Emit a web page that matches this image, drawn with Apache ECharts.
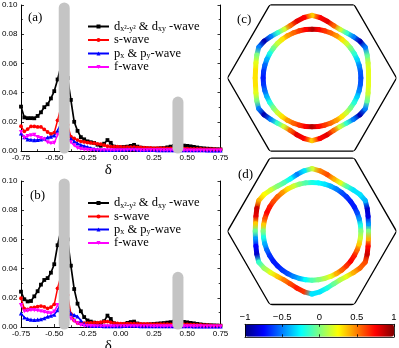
<!DOCTYPE html>
<html><head><meta charset="utf-8">
<script src="https://cdn.jsdelivr.net/npm/echarts@6/dist/echarts.min.js"></script>
<style>html,body{margin:0;padding:0;background:#fff;}#c{width:399px;height:348px;}</style>
</head><body><div id="c"></div>
<script>
// ---------- data: panels (a) and (b) ----------
const delta = [-0.75,-0.725,-0.7,-0.675,-0.65,-0.625,-0.6,-0.575,-0.55,-0.525,-0.5,-0.475,-0.45,-0.425,-0.4,-0.375,-0.35,-0.325,-0.3,-0.275,-0.25,-0.225,-0.2,-0.175,-0.15,-0.125,-0.1,-0.075,-0.05,-0.025,0,0.025,0.05,0.075,0.1,0.125,0.15,0.175,0.2,0.225,0.25,0.275,0.3,0.325,0.35,0.375,0.4,0.425,0.45,0.475,0.5,0.525,0.55,0.575,0.6,0.625,0.65,0.675,0.7,0.725,0.75];

const dWaveA = [0.0304,0.023,0.0225,0.0225,0.0224,0.024,0.0265,0.030,0.032,0.036,0.041,0.049,0.058,0.065,0.05,0.035,0.020,0.0138,0.0095,0.008,0.0066,0.006,0.0055,0.0043,0.0036,0.005,0.0075,0.0056,0.003,0.0025,0.0026,0.0028,0.003,0.0035,0.0042,0.003,0.0023,0.002,0.0018,0.0017,0.0016,0.0017,0.0019,0.002,0.0025,0.003,0.0035,0.0038,0.0038,0.0037,0.0035,0.0032,0.0028,0.0024,0.002,0.0018,0.0016,0.0015,0.0013,0.0012,0.0011];
const sWaveA = [0.017,0.0135,0.015,0.0168,0.0168,0.0165,0.0165,0.0148,0.013,0.0117,0.0125,0.021,0.03,0.033,0.018,0.0098,0.0087,0.0075,0.0066,0.0062,0.0058,0.0055,0.0053,0.0049,0.0047,0.004,0.0033,0.003,0.0029,0.0029,0.0028,0.0027,0.0027,0.0026,0.0026,0.0025,0.0024,0.0023,0.0022,0.0021,0.002,0.002,0.0019,0.0019,0.0018,0.0018,0.0018,0.0017,0.0017,0.0016,0.0016,0.0015,0.0015,0.0014,0.0014,0.0013,0.0013,0.0012,0.0012,0.0011,0.0011];
const pWaveA = [0.012,0.0095,0.008,0.0077,0.0075,0.0076,0.008,0.0085,0.0093,0.0098,0.0107,0.014,0.019,0.02,0.014,0.0085,0.0066,0.0052,0.0042,0.0034,0.0027,0.002,0.0015,0.0012,0.001,0.0009,0.0008,0.0008,0.0008,0.0008,0.0009,0.001,0.0011,0.0013,0.0015,0.001,0.0008,0.0007,0.0007,0.0007,0.0007,0.0006,0.0006,0.0006,0.0006,0.0006,0.0006,0.0006,0.0006,0.0005,0.0005,0.0005,0.0005,0.0005,0.0005,0.0005,0.0004,0.0004,0.0004,0.0004,0.0004];
const fWaveA = [0.013,0.009,0.0102,0.0107,0.011,0.0096,0.0088,0.008,0.006,0.0053,0.0055,0.011,0.013,0.012,0.009,0.006,0.0038,0.0022,0.0014,0.001,0.0008,0.0006,0.0005,0.0005,0.0005,0.0005,0.0005,0.0005,0.0005,0.0005,0.0005,0.0005,0.0005,0.0005,0.0005,0.0005,0.0004,0.0004,0.0004,0.0004,0.0004,0.0004,0.0004,0.0004,0.0004,0.0004,0.0004,0.0004,0.0004,0.0004,0.0003,0.0003,0.0003,0.0003,0.0003,0.0003,0.0003,0.0003,0.0003,0.0003,0.0003];

const dWaveB = [0.0242,0.019,0.0175,0.0178,0.021,0.0245,0.029,0.0322,0.0335,0.0372,0.043,0.056,0.066,0.082,0.06,0.042,0.026,0.016,0.0108,0.0068,0.0045,0.0037,0.003,0.0025,0.0022,0.004,0.0078,0.0055,0.0025,0.0018,0.0016,0.002,0.0028,0.0034,0.0037,0.0024,0.0018,0.0016,0.0017,0.0019,0.0021,0.0023,0.0025,0.0027,0.003,0.0033,0.0036,0.0037,0.0037,0.0035,0.0032,0.0028,0.0025,0.0021,0.0018,0.0015,0.0013,0.0012,0.0011,0.001,0.0009];
const sWaveB = [0.0197,0.0125,0.012,0.013,0.0135,0.014,0.0143,0.0138,0.0128,0.0136,0.0155,0.0265,0.035,0.04,0.022,0.009,0.0045,0.0028,0.0025,0.0026,0.0027,0.0028,0.0029,0.003,0.0033,0.0036,0.0037,0.0032,0.0027,0.0025,0.0023,0.0023,0.0023,0.0023,0.0023,0.0022,0.0022,0.0021,0.0021,0.002,0.002,0.002,0.0019,0.0019,0.0019,0.0018,0.0018,0.0018,0.0017,0.0017,0.0017,0.0016,0.0016,0.0015,0.0014,0.0013,0.0012,0.0011,0.001,0.001,0.0009];
const pWaveB = [0.0094,0.0065,0.0055,0.005,0.0048,0.005,0.0053,0.006,0.0071,0.0077,0.0085,0.0115,0.017,0.02,0.013,0.0092,0.0082,0.0072,0.0045,0.0022,0.0013,0.0009,0.0008,0.0007,0.0007,0.0006,0.0006,0.0006,0.0006,0.0006,0.0006,0.0007,0.0008,0.0009,0.001,0.0007,0.0006,0.0005,0.0005,0.0005,0.0005,0.0005,0.0005,0.0005,0.0005,0.0005,0.0005,0.0005,0.0005,0.0005,0.0005,0.0005,0.0004,0.0004,0.0004,0.0004,0.0004,0.0004,0.0004,0.0004,0.0004];
const fWaveB = [0.015,0.0108,0.0112,0.0116,0.0116,0.0113,0.0108,0.0103,0.0097,0.0094,0.0105,0.015,0.017,0.018,0.01,0.0058,0.004,0.0025,0.0013,0.0008,0.0007,0.0006,0.0005,0.0005,0.0005,0.0005,0.0005,0.0005,0.0005,0.0005,0.0005,0.0005,0.0005,0.0005,0.0005,0.0005,0.0005,0.0005,0.0005,0.0005,0.0004,0.0004,0.0004,0.0004,0.0004,0.0004,0.0004,0.0004,0.0004,0.0004,0.0004,0.0004,0.0004,0.0004,0.0004,0.0003,0.0003,0.0003,0.0003,0.0003,0.0003];

const waveNames = ['d', 's', 'p', 'f'];
const highlightX = [-0.425, 0.43];
const highlightLow = [0.002, 0.002];
const highlightHighA = [0.098, 0.0335];
const highlightHighB = [0.098, 0.034];

// ---------- data: panels (c) and (d), Brillouin zone and Fermi surfaces ----------
const bzAngles = [0, 60, 120, 180, 240, 300, 360];
const bzRadius = [1, 1, 1, 1, 1, 1, 1];
const fsAngles = [0,7.5,15,22.5,30,37.5,45,52.5,60,67.5,75,82.5,90,97.5,105,112.5,120,127.5,135,142.5,150,157.5,165,172.5,180,187.5,195,202.5,210,217.5,225,232.5,240,247.5,255,262.5,270,277.5,285,292.5,300,307.5,315,322.5,330,337.5,345,352.5];
const outerRadius = [0.669,0.674,0.687,0.707,0.728,0.715,0.692,0.673,0.664,0.672,0.695,0.722,0.742,0.722,0.695,0.672,0.664,0.673,0.692,0.715,0.728,0.707,0.687,0.674,0.672,0.674,0.687,0.707,0.728,0.715,0.692,0.673,0.664,0.672,0.695,0.722,0.742,0.722,0.695,0.672,0.664,0.673,0.692,0.715,0.728,0.707,0.687,0.674];
const innerRadius = [0.578,0.578,0.578,0.578,0.578,0.578,0.578,0.578,0.578,0.578,0.578,0.578,0.578,0.578,0.578,0.578,0.578,0.578,0.578,0.578,0.578,0.578,0.578,0.578,0.578,0.578,0.578,0.578,0.578,0.578,0.578,0.578,0.578,0.578,0.578,0.578,0.578,0.578,0.578,0.578,0.578,0.578,0.578,0.578,0.578,0.578,0.578,0.578];
const gapOuterC = [0.2,0.2,0.15,-0.05,-0.5,-0.9,-0.5,-0.15,0.15,0.55,0.8,0.75,0.35,0.75,0.8,0.55,0.15,-0.15,-0.5,-0.9,-0.5,0.0,0.2,0.3,0.3,0.3,0.2,0.0,-0.5,-0.9,-0.5,-0.15,0.15,0.55,0.8,0.75,0.35,0.75,0.8,0.55,0.15,-0.15,-0.5,-0.9,-0.5,-0.05,0.15,0.2];
const gapInnerC = [-0.6,-0.57,-0.48,-0.33,-0.17,-0.02,0.15,0.3,0.45,0.55,0.65,0.75,0.9,0.75,0.65,0.55,0.45,0.3,0.15,-0.02,-0.2,-0.4,-0.55,-0.65,-0.7,-0.65,-0.55,-0.4,-0.2,-0.02,0.15,0.3,0.45,0.55,0.65,0.75,0.9,0.75,0.65,0.55,0.45,0.3,0.15,-0.02,-0.17,-0.33,-0.48,-0.57];
const gapOuterD = [0.0,-0.45,-0.8,-0.85,-0.4,-0.3,-0.3,-0.1,0.2,0.4,0.6,0.5,0.15,-0.3,-0.5,-0.25,-0.1,0.0,0.15,0.25,0.4,0.85,0.8,0.35,-0.05,-0.45,-0.75,-0.85,-0.15,0.05,0.2,0.35,0.5,0.6,0.7,0.65,-0.3,-0.3,-0.2,-0.05,0.1,0.2,0.4,0.55,0.6,0.85,0.75,0.4];
const gapInnerD = [0.0,-0.2,-0.45,-0.6,-0.7,-0.7,-0.65,-0.6,-0.5,-0.4,-0.3,-0.25,-0.2,-0.1,0.0,0.15,0.3,0.45,0.55,0.6,0.7,0.75,0.6,0.35,0.0,-0.2,-0.4,-0.55,-0.65,-0.7,-0.7,-0.65,-0.6,-0.5,-0.4,-0.25,-0.1,0.0,0.1,0.2,0.4,0.55,0.65,0.75,0.7,0.55,0.35,0.15];
const colorbarMin = -1, colorbarMax = 1, colorbarStep = 0.5;

// ---------- styles ----------
const SERIF = '"Liberation Serif", "DejaVu Serif", serif';
const SANS = '"Liberation Sans", Arial, sans-serif';
const waveStyle = {
  d: { color: '#000000', symbol: 'rect', size: 3.8, rotate: 0, width: 1.7 },
  s: { color: '#ff0000', symbol: 'circle', size: 3.8, rotate: 0, width: 1.5 },
  p: { color: '#0000ff', symbol: 'triangle', size: 4.2, rotate: 0, width: 1.5 },
  f: { color: '#ff00ff', symbol: 'triangle', size: 4.2, rotate: 180, width: 1.5 }
};
const jet = ['#00007f','#0000ff','#007fff','#00ffff','#7fff7f','#ffff00','#ff7f00','#ff0000','#7f0000'];

const grids = [
  { left: 21, top: 5, width: 199.5, height: 146 },
  { left: 21, top: 181, width: 199.5, height: 146 },
  { left: 245, top: 324.3, width: 149, height: 12.5 }
].map(g => Object.assign({ containLabel: false, outerBoundsMode: 'none', show: false }, g));

const tickStyle = { color: '#000', width: 0.8 };
function xAxisFor(gi) {
  return {
    type: 'value', gridIndex: gi, min: -0.75, max: 0.75, interval: 0.25,
    axisLine: { show: true, onZero: false, lineStyle: { color: '#000', width: 1 } },
    axisTick: { show: true, inside: true, length: 3, lineStyle: tickStyle },
    minorTick: { show: true, splitNumber: 2, length: 1.8, lineStyle: tickStyle },
    splitLine: { show: false },
    axisLabel: { color: '#000', fontFamily: SANS, fontSize: 8, margin: 2.5, formatter: v => v.toFixed(2) },
    name: 'δ', nameLocation: 'middle', nameGap: 6,
    nameTextStyle: { fontFamily: SERIF, fontSize: 15, color: '#000', padding: [0, 25, 0, 0] }
  };
}
function yAxisFor(gi, right) {
  return {
    type: 'value', gridIndex: gi, min: 0, max: 0.1, interval: 0.02, position: right ? 'right' : 'left',
    axisLine: { show: true, onZero: false, lineStyle: { color: '#000', width: 1 } },
    axisTick: { show: true, inside: true, length: 3, lineStyle: tickStyle },
    minorTick: { show: true, splitNumber: 2, length: 1.8, lineStyle: tickStyle },
    splitLine: { show: false },
    axisLabel: { show: !right, color: '#000', fontFamily: SANS, fontSize: 8, margin: 3.5, formatter: v => v.toFixed(2) },
    name: right ? '' : 'λ', nameLocation: 'middle', nameGap: 12.5, nameRotate: 0,
    nameTextStyle: { fontFamily: SERIF, fontSize: 15, color: '#000' }
  };
}

const xAxes = [
  xAxisFor(0), xAxisFor(1),
  { type: 'value', gridIndex: 2, min: colorbarMin, max: colorbarMax, interval: colorbarStep, position: 'top', z: 10,
    axisLine: { show: true, onZero: false, lineStyle: { color: '#000', width: 0.8 } },
    axisTick: { show: true, inside: true, length: 2.5, lineStyle: tickStyle },
    splitLine: { show: false },
    axisLabel: { color: '#000', fontFamily: SANS, fontSize: 9.5, margin: 1.5,
      formatter: v => (v < 0 ? '\u2212' : '') + Math.abs(v) } },
  { type: 'value', gridIndex: 2, min: colorbarMin, max: colorbarMax, interval: colorbarStep, position: 'bottom', z: 10,
    axisLine: { show: true, onZero: false, lineStyle: { color: '#000', width: 0.8 } },
    axisTick: { show: true, inside: true, length: 2.5, lineStyle: tickStyle },
    splitLine: { show: false }, axisLabel: { show: false } }
];
const yAxes = [
  yAxisFor(0, false), yAxisFor(0, true), yAxisFor(1, false), yAxisFor(1, true),
  { type: 'value', gridIndex: 2, min: 0, max: 1, position: 'left', z: 10,
    axisLine: { show: true, onZero: false, lineStyle: { color: '#000', width: 0.8 } },
    axisTick: { show: false }, splitLine: { show: false }, axisLabel: { show: false } },
  { type: 'value', gridIndex: 2, min: 0, max: 1, position: 'right', z: 10,
    axisLine: { show: true, onZero: false, lineStyle: { color: '#000', width: 0.8 } },
    axisTick: { show: false }, splitLine: { show: false }, axisLabel: { show: false } }
];

function curve(name, values, gi) {
  const st = waveStyle[name];
  return {
    type: 'line', name, xAxisIndex: gi, yAxisIndex: gi * 2,
    data: delta.map((x, i) => [x, values[i]]),
    symbol: st.symbol, symbolSize: st.size, symbolRotate: st.rotate, showAllSymbol: true,
    lineStyle: { color: st.color, width: st.width }, itemStyle: { color: st.color },
    z: 2, silent: true
  };
}
function highlight(i, gi, highs) {
  return {
    type: 'line', xAxisIndex: gi, yAxisIndex: gi * 2, clip: false, symbol: 'none', silent: true,
    data: [[highlightX[i], highlightLow[i]], [highlightX[i], highs[i]]],
    lineStyle: { color: '#c4c4c4', width: 11, cap: 'round' }, z: 3
  };
}
function hexagon(pi) {
  return {
    type: 'line', coordinateSystem: 'polar', polarIndex: pi, symbol: 'none', silent: true,
    data: bzAngles.map((a, i) => [bzRadius[i], a]),
    lineStyle: { color: '#000', width: 1.3 }, z: 2
  };
}
function ringRender(params, api) {
  const n = params.dataInsideLength;
  const i = params.dataIndexInside, j = (i + 1) % n;
  const a = api.coord([api.value(0, i), api.value(1, i)]);
  const b = api.coord([api.value(0, j), api.value(1, j)]);
  const ca = api.visual('color', i), cb = api.visual('color', j);
  return {
    type: 'line', silent: true,
    shape: { x1: a[0], y1: a[1], x2: b[0], y2: b[1] },
    style: {
      stroke: new echarts.graphic.LinearGradient(a[0], a[1], b[0], b[1],
        [{ offset: 0, color: ca }, { offset: 1, color: cb }], true),
      lineWidth: 5, lineCap: 'round'
    }
  };
}
function ring(pi, radii, gaps) {
  return {
    type: 'custom', coordinateSystem: 'polar', polarIndex: pi, renderItem: ringRender, silent: true,
    data: fsAngles.map((a, i) => [radii[i], a, gaps[i]]), z: 3
  };
}

const series = [
  curve('d', dWaveA, 0), curve('s', sWaveA, 0), curve('p', pWaveA, 0), curve('f', fWaveA, 0),
  highlight(0, 0, highlightHighA), highlight(1, 0, highlightHighA),
  curve('d', dWaveB, 1), curve('s', sWaveB, 1), curve('p', pWaveB, 1), curve('f', fWaveB, 1),
  highlight(0, 1, highlightHighB), highlight(1, 1, highlightHighB),
  hexagon(0), ring(0, outerRadius, gapOuterC), ring(0, innerRadius, gapInnerC),
  hexagon(1), ring(1, outerRadius, gapOuterD), ring(1, innerRadius, gapInnerD)
];

const legendLabels = {
  d: '{t|d}{s|x²-y²}{t| & d}{s|xy}{t| -wave}',
  s: '{t|s-wave}',
  p: '{t|p}{s|x}{t| & p}{s|y}{t|-wave}',
  f: '{t|f-wave}'
};
const legendRowTopA = [20, 33.5, 47, 60.5];
const legendRowTopB = [196.5, 210, 223, 236.5];
function legendRow(name, top) {
  return {
    data: [name], left: 87, top, padding: 0, itemGap: 0, itemWidth: 21, itemHeight: 5,
    selectedMode: false, formatter: n => legendLabels[n],
    textStyle: {
      color: '#000', fontFamily: SERIF, fontSize: 12.5, lineHeight: 13,
      rich: {
        t: { fontFamily: SERIF, fontSize: 12.5, lineHeight: 13, color: '#000' },
        s: { fontFamily: SERIF, fontSize: 8, lineHeight: 8, verticalAlign: 'bottom', color: '#000' }
      }
    }
  };
}
const legends = [];
waveNames.forEach((n, i) => legends.push(legendRow(n, legendRowTopA[i])));
waveNames.forEach((n, i) => legends.push(legendRow(n, legendRowTopB[i])));

function panelLabel(text, left, top) {
  return { type: 'text', left, top, silent: true,
    style: { text, fill: '#000', font: '13px ' + SERIF } };
}

const chart = echarts.init(document.getElementById('c'), null, { renderer: 'canvas' });
chart.setOption({
  animation: false,
  backgroundColor: '#ffffff',
  grid: grids,
  xAxis: xAxes,
  yAxis: yAxes,
  polar: [{ center: [312, 78], radius: 84.5 }, { center: [312, 231.3], radius: 84.5 }],
  angleAxis: [0, 1].map(pi => ({ polarIndex: pi, type: 'value', min: 0, max: 360, startAngle: 0, clockwise: false, show: false })),
  radiusAxis: [0, 1].map(pi => ({ polarIndex: pi, type: 'value', min: 0, max: 1, show: false })),
  visualMap: {
    type: 'continuous', min: colorbarMin, max: colorbarMax, dimension: 2, seriesIndex: [13, 14, 16, 17],
    orient: 'horizontal', left: 245, top: 324.3, itemWidth: 12.5, itemHeight: 149, padding: 0,
    calculable: false, hoverLink: false, inRange: { color: jet }
  },
  legend: legends,
  graphic: [
    panelLabel('(a)', 28, 11), panelLabel('(b)', 30, 189),
    panelLabel('(c)', 237, 13), panelLabel('(d)', 238, 168)
  ],
  series
});
</script></body></html>
